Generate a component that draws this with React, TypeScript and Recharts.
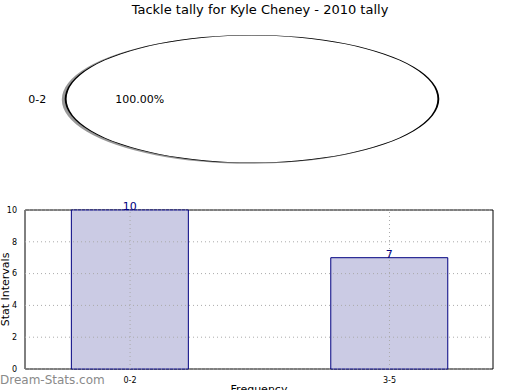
import React from 'react';
import {
  PieChart, Pie, Cell, BarChart, Bar, XAxis, YAxis,
  LabelList, ReferenceArea, ReferenceLine, Label
} from 'recharts';

const title = 'Tackle tally for Kyle Cheney - 2010 tally';

// pie (only one slice in the source)
const pieLabels = ['0-2'];
const pieValues = [10];

// bars
const barCategories = ['0-2', '3-5'];
const barValues = [10, 7];
const yTicks = [0, 2, 4, 6, 8, 10];
const xTicks = [0, 1];

const FONT = '"DejaVu Sans", sans-serif';
const K = 187 / 64; // horizontal stretch so the pie becomes an ellipse
const RAD = Math.PI / 180;
const X_DOMAIN = [-0.405, 1.399];

const pieData = pieLabels.map((name, i) => ({ name, value: pieValues[i] }));
const barData = barCategories.map((name, i) => ({ pos: i, name, value: barValues[i] }));

// labels drawn un-stretched inside the stretched pie
const renderPieLabel = (p: any) => {
  const a = -p.midAngle * RAD;
  const lx = p.cx + 64 * 1.1 * Math.cos(a);
  const ly = p.cy + 64 * 1.1 * Math.sin(a);
  const px = p.cx + 64 * 0.6 * Math.cos(a);
  const py = p.cy + 64 * 0.6 * Math.sin(a);
  const anchor = Math.cos(a) < 0 ? 'end' : 'start';
  return (
    <g>
      <text transform={`translate(${lx},${ly}) scale(${1 / K},1)`} textAnchor={anchor}
        dominantBaseline="central" fontSize={11} fill="#000" fontFamily={FONT}>
        {p.name}
      </text>
      <text transform={`translate(${px},${py}) scale(${1 / K},1)`} textAnchor="middle"
        dominantBaseline="central" fontSize={11} fill="#000" fontFamily={FONT}>
        {(p.percent * 100).toFixed(2)}%
      </text>
    </g>
  );
};

export default function App() {
  return (
    <div style={{ position: 'absolute', left: 0, top: 0, width: 520, height: 390, overflow: 'hidden', background: '#fff', fontFamily: FONT }}>
      <div style={{ position: 'absolute', top: 2, left: 0, width: 520, textAlign: 'center', fontSize: 13, color: '#000' }}>
        {title}
      </div>

      {/* pie, stretched sideways */}
      <div style={{ position: 'absolute', left: 252 - 90, top: 99 - 70, width: 180, height: 140, transform: `scaleX(${K})`, transformOrigin: '90px 70px' }}>
        <PieChart width={180} height={140} margin={{ top: 0, right: 0, bottom: 0, left: 0 }}>
          {/* shadow */}
          <Pie data={pieData} dataKey="value" nameKey="name" cx={89.1} cy={70.6} outerRadius={64.2}
            startAngle={0} endAngle={360} stroke="none" isAnimationActive={false}>
            {pieData.map((d) => <Cell key={'s' + d.name} fill="#000" fillOpacity={0.4} stroke="none" />)}
          </Pie>
          {/* face */}
          <Pie data={pieData} dataKey="value" nameKey="name" cx={90} cy={70} outerRadius={64}
            startAngle={0} endAngle={360} stroke="none"
            label={renderPieLabel} labelLine={false} isAnimationActive={false}>
            {pieData.map((d) => <Cell key={d.name} fill="#fff" stroke="none" />)}
          </Pie>
          {/* outline */}
          <Pie data={pieData} dataKey="value" nameKey="name" cx={90} cy={70} innerRadius={63.45} outerRadius={64.1}
            startAngle={0} endAngle={360} stroke="none" isAnimationActive={false}>
            {pieData.map((d) => <Cell key={'o' + d.name} fill="#000" stroke="none" />)}
          </Pie>
        </PieChart>
      </div>

      <div style={{ position: 'absolute', left: 0, top: 0 }}>
        <BarChart width={520} height={400} data={barData} margin={{ top: 210, right: 27, bottom: 0, left: 0 }}>
          <XAxis dataKey="pos" type="number" domain={X_DOMAIN} ticks={xTicks} allowDataOverflow
            tickFormatter={(v: number) => barCategories[v]} height={31} axisLine={false} tickLine={false}
            tick={{ fontSize: 8, fill: '#000', fontFamily: FONT }} tickMargin={2}>
            <Label value="Frequency" position="insideBottom" offset={7} fontSize={11} fill="#000" fontFamily={FONT} />
          </XAxis>
          <YAxis domain={[0, 10]} ticks={yTicks} width={25} axisLine={false} tickLine={false}
            tick={{ fontSize: 8, fill: '#000', fontFamily: FONT }} tickMargin={2}>
            <Label value="Stat Intervals" position="center" angle={-90} dx={-7} fontSize={11} fill="#000" fontFamily={FONT} />
          </YAxis>
          <Bar dataKey="value" barSize={117} fill="#cbcbe4" stroke="#000080" strokeWidth={1} isAnimationActive={false}>
            <LabelList dataKey="value" position="top" offset={0} fill="#000080" fontSize={11} fontFamily={FONT} />
          </Bar>
          {/* dotted grid drawn over the bars */}
          {yTicks.map((t) => (
            <ReferenceLine key={'y' + t} y={t} stroke="#aaa" strokeDasharray="1 3" />
          ))}
          {xTicks.map((t) => (
            <ReferenceLine key={'x' + t} x={t} stroke="#aaa" strokeDasharray="1 3" />
          ))}
          <ReferenceArea x1={X_DOMAIN[0]} x2={X_DOMAIN[1]} y1={0} y2={10} fill="none" stroke="#000" strokeWidth={1} ifOverflow="visible" />
        </BarChart>
      </div>

      <div style={{ position: 'absolute', left: 0, top: 373, fontSize: 12, color: '#8a8a8a' }}>
        Dream-Stats.com
      </div>
    </div>
  );
}
